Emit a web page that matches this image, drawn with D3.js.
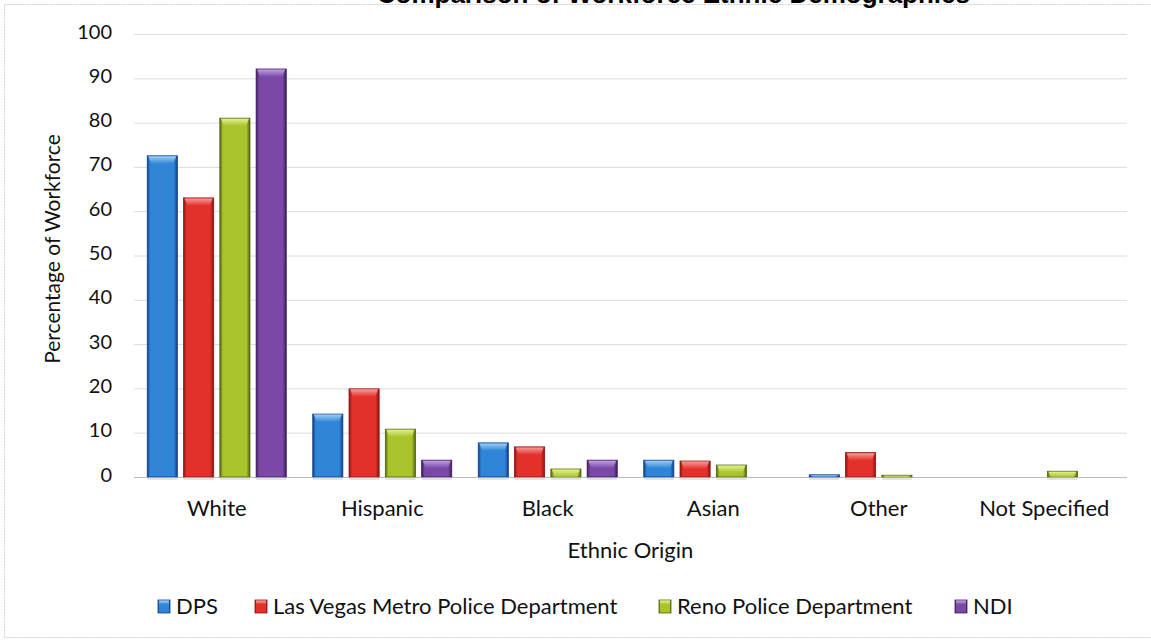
<!DOCTYPE html>
<html><head><meta charset="utf-8">
<script src="https://cdn.jsdelivr.net/npm/d3@7/dist/d3.min.js"></script>
<style>body{margin:0;background:#fff}svg{display:block}</style>
</head><body>
<svg id="chart" width="1151" height="641"></svg>
<script>
const categories = ["White","Hispanic","Black","Asian","Other","Not Specified"];
const seriesNames = ["DPS","Las Vegas Metro Police Department","Reno Police Department","NDI"];
const dps  = [72.5, 14.2, 7.7, 3.8, 0.5, 0];
const lvmpd = [63.0, 19.9, 6.8, 3.6, 5.5, 0];
const reno = [81.0, 10.8, 1.8, 2.7, 0.4, 1.3];
const ndi  = [92.1, 3.8, 3.8, 0, 0, 0];
const seriesValues = [dps, lvmpd, reno, ndi];
const yTicks = [0,10,20,30,40,50,60,70,80,90,100];
const colors = ["#2f86d6","#e3302b","#a8c42a","#7b48a6"];
const darks  = ["#123f86","#8a1410","#4f6410","#3b1c5c"];
const lights = ["#a9d4f8","#f8a8a4","#e6f59a","#c9a8e6"];
const titleText = "Comparison of Workforce Ethnic Demographics";

const svg = d3.select("#chart");
const font = "Lato, 'Open Sans', sans-serif";

// border
svg.append("rect").attr("x",4.5).attr("y",4.5).attr("width",1152).attr("height",633)
  .attr("fill","none").attr("stroke","#cfcfcf").attr("stroke-dasharray","2,1");

const x0 = d3.scaleBand().domain(categories).range([134,1127]).paddingInner(0.16).paddingOuter(0.08);
const x1 = d3.scaleBand().domain(seriesNames).range([0, x0.bandwidth()]).paddingInner(0.17).paddingOuter(0);
const y = d3.scaleLinear().domain([0,100]).range([477,34]);

// defs
const defs = svg.append("defs");
seriesNames.forEach((s,i)=>{
  const g = defs.append("linearGradient").attr("id","g"+i).attr("x1","0").attr("x2","1").attr("y1","0").attr("y2","0");
  g.append("stop").attr("offset","0").attr("stop-color",darks[i]);
  g.append("stop").attr("offset","0.1").attr("stop-color",colors[i]);
  g.append("stop").attr("offset","0.5").attr("stop-color",colors[i]);
  g.append("stop").attr("offset","0.88").attr("stop-color",colors[i]);
  g.append("stop").attr("offset","1").attr("stop-color",darks[i]);
  const c = defs.append("linearGradient").attr("id","c"+i).attr("x1","0").attr("x2","0").attr("y1","0").attr("y2","1");
  c.append("stop").attr("offset","0").attr("stop-color",lights[i]);
  c.append("stop").attr("offset","1").attr("stop-color",colors[i]);
});

// title (cut off at top edge, as in the reference)
svg.append("text").attr("x",970).attr("y",3).attr("text-anchor","end")
  .attr("font-family","'Liberation Sans', Arial, sans-serif").attr("font-weight","bold")
  .attr("font-size",26).attr("fill","#000").text(titleText);

// gridlines
const yAxis = d3.axisLeft(y).tickValues(yTicks).tickSize(-(1127-134)).tickPadding(22);
const ga = svg.append("g").attr("transform","translate(134,0)").call(yAxis);
ga.select(".domain").remove();
ga.selectAll(".tick line").attr("stroke","#dcdcdc").attr("stroke-width",1);
ga.selectAll(".tick text").attr("font-family",font).attr("font-size",20).attr("fill","#111").attr("dy","0.2em");
ga.selectAll(".tick").filter(d=>d===0).select("line").attr("stroke","#bdbdbd");

// bars
const groups = svg.append("g").selectAll("g").data(categories).join("g")
  .attr("transform",d=>`translate(${x0(d)},0)`);
groups.each(function(cat,ci){
  const gg = d3.select(this);
  seriesNames.forEach((s,si)=>{
    const v = seriesValues[si][ci];
    if(!(v>0)) return;
    const bx = x1(s), bw = x1.bandwidth();
    const top = y(v), h = y(0)-y(v);
    gg.append("rect").attr("x",bx).attr("y",y(0)).attr("width",bw).attr("height",3).attr("fill","#e4e4e4");
    gg.append("rect").attr("x",bx).attr("y",top).attr("width",bw).attr("height",h)
      .attr("fill",`url(#g${si})`).attr("stroke",darks[si]).attr("stroke-width",0.8);
    const ch = Math.min(8,h);
    gg.append("path")
      .attr("d",`M${bx+1},${top+0.5} L${bx+bw-1},${top+0.5} L${bx+bw-4},${top+ch} L${bx+4},${top+ch} Z`)
      .attr("fill",`url(#c${si})`).attr("opacity",0.9);
  });
});

// x labels
const xAxis = d3.axisBottom(x0).tickSize(0).tickPadding(0);
const gx = svg.append("g").attr("transform","translate(0,516)").call(xAxis);
gx.select(".domain").remove();
gx.selectAll(".tick text").attr("font-family",font).attr("font-size",22).attr("fill","#111").attr("dy","0");

// axis titles
svg.append("text").attr("x",630.5).attr("y",558).attr("text-anchor","middle")
  .attr("font-family",font).attr("font-size",22).attr("fill","#111").text("Ethnic Origin");
svg.append("text").attr("transform","translate(60,249) rotate(-90)").attr("text-anchor","middle")
  .attr("font-family",font).attr("font-size",21).attr("fill","#111").text("Percentage of Workforce");

// legend
const legendX = [158,255,659,955];
const lg = svg.append("g").selectAll("g").data(seriesNames).join("g")
  .attr("transform",(d,i)=>`translate(${legendX[i]},600)`);
lg.append("rect").attr("width",12).attr("height",13).attr("fill",(d,i)=>`url(#g${i})`)
  .attr("stroke",(d,i)=>darks[i]).attr("stroke-width",0.8);
lg.append("rect").attr("x",1).attr("y",0.5).attr("width",10).attr("height",4).attr("fill",(d,i)=>`url(#c${i})`);
lg.append("text").attr("x",18).attr("y",14).attr("font-family",font).attr("font-size",22).attr("fill","#111").text(d=>d);
</script>
</body></html>
